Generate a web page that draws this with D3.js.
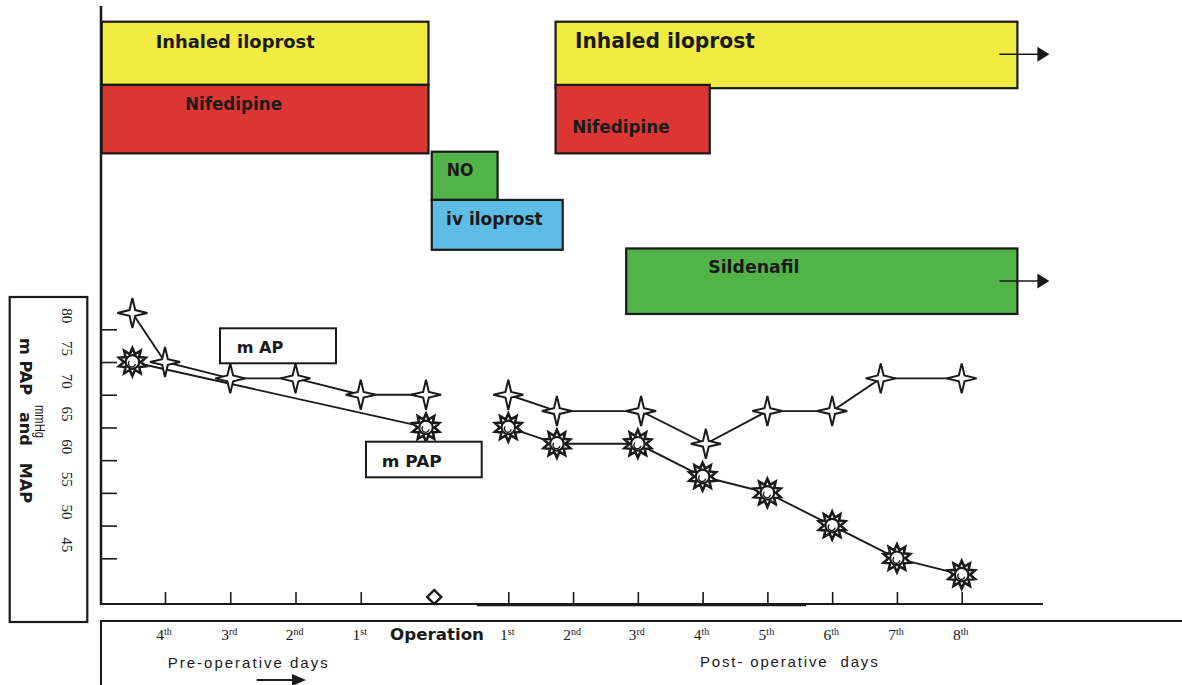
<!DOCTYPE html>
<html><head><meta charset="utf-8">
<script src="https://cdn.jsdelivr.net/npm/d3@7"></script>
<style>body{margin:0;background:#fff}svg{display:block}</style>
</head><body>
<svg id="chart" width="1182" height="685"></svg>
<script>
// ---------------- data ----------------
const preDays = [-4, -3, -2, -1];
const postDays = [1, 2, 3, 4, 5, 6, 7, 8];
const preDayLabels = [["4","th"],["3","rd"],["2","nd"],["1","st"]];
const postDayLabels = [["1","st"],["2","nd"],["3","rd"],["4","th"],["5","th"],["6","th"],["7","th"],["8","th"]];
const yTicks = [80, 75, 70, 65, 60, 55, 50, 45];
const operationDay = 0.1;

// mean arterial pressure (mAP)
const mapPreDay  = [-4.5, -4, -3, -2, -1, 0];
const mapPreVal  = [82.5, 75, 72.5, 72.5, 70, 70];
const mapPostDay = [1, 1.75, 3.05, 4.05, 5, 6, 6.75, 8];
const mapPostVal = [70, 67.5, 67.5, 62.5, 67.5, 67.5, 72.5, 72.5];
// mean pulmonary arterial pressure (mPAP)
const mpapPreDay  = [-4.5, 0];
const mpapPreVal  = [75, 65];
const mpapPostDay = [1, 1.75, 3, 4, 5, 6, 7, 8];
const mpapPostVal = [65, 62.5, 62.5, 57.5, 55, 50, 45, 42.5];

// treatments (start / end in days)
const drugNames   = ["Inhaled iloprost", "Nifedipine", "NO", "iv iloprost", "Inhaled iloprost", "Nifedipine", "Sildenafil"];
const drugStart   = [-4.97, -4.97, 0.07, 0.07, 1.73, 1.73, 2.82];
const drugEnd     = [0.03, 0.03, 0.87, 1.84, 8.86, 4.11, 8.86];
const drugOngoing = [false, false, false, false, true, false, true];

// ---------------- layout / style ----------------
const drugColor = {"Inhaled iloprost":"#f1ec41","Nifedipine":"#dc3632","NO":"#52b348","iv iloprost":"#5ebde4","Sildenafil":"#52b348"};
// lane (vertical band) placement, label offsets & sizes
const barLayout = [
  {l0:0,     l1:0.95,  dx:54,   dy:26,   fs:17, tl:159},
  {l0:0.95,  l1:1.98,  dx:83.3, dy:25,   fs:17, tl:97},
  {l0:1.955, l1:2.68,  dx:15,   dy:24.3, fs:17, tl:26.7},
  {l0:2.68,  l1:3.43,  dx:14.3, dy:25,   fs:17, tl:96.7},
  {l0:0,     l1:1.0,   dx:19.3, dy:26,   fs:21, tl:180},
  {l0:0.95,  l1:1.98,  dx:16.7, dy:47.7, fs:17, tl:97.3},
  {l0:3.41,  l1:4.395, dx:82,   dy:25,   fs:17, tl:91.3}
];

const svg = d3.select("#chart");
const INK = "#1a1a1a";

const x = d3.scaleLinear().domain([-4, 0, 1, 8]).range([165, 426, 508.3, 961.7]);
const y = d3.scaleLinear().domain([80, 45]).range([329.3, 558.3]);
const lane = d3.scaleLinear().domain([0, 1]).range([21.7, 88.2]);

// ---------------- treatment bars ----------------
const bars = drugNames.map((n, i) => ({name:n, s:drugStart[i], e:drugEnd[i], on:drugOngoing[i], L:barLayout[i]}));
const gb = svg.append("g");
const order = [0,1,2,3,4,6,5];
order.forEach(i => {
  const b = bars[i];
  const x0 = x(b.s), x1 = x(b.e), y0 = lane(b.L.l0), y1 = lane(b.L.l1);
  gb.append("rect").attr("x", x0).attr("y", y0).attr("width", x1 - x0).attr("height", y1 - y0)
    .attr("fill", drugColor[b.name]).attr("stroke", INK).attr("stroke-width", 2.2);
  gb.append("text").attr("x", x0 + b.L.dx).attr("y", y0 + b.L.dy)
    .attr("font-family", "DejaVu Sans, Verdana, sans-serif").attr("font-weight", "bold")
    .attr("font-size", b.L.fs).attr("fill", INK)
    .attr("textLength", b.L.tl).attr("lengthAdjust", "spacingAndGlyphs")
    .text(b.name);
  if (b.on) {
    const ay = y0 + 32.5;
    gb.append("line").attr("x1", x1 - 18).attr("x2", x1 + 21).attr("y1", ay).attr("y2", ay)
      .attr("stroke", INK).attr("stroke-width", 1.6);
    gb.append("path").attr("d", d3.line()([[x1 + 20, ay - 7.5], [x1 + 32, ay], [x1 + 20, ay + 7.5]]) + "Z")
      .attr("fill", INK);
  }
});

// ---------------- axes ----------------
const ga = svg.append("g").attr("stroke", INK).attr("fill", "none");
ga.append("line").attr("x1", 101).attr("x2", 101).attr("y1", 6).attr("y2", 605).attr("stroke-width", 2.5);
ga.append("line").attr("x1", 100).attr("x2", 1043).attr("y1", 604).attr("y2", 604).attr("stroke-width", 2);
ga.append("line").attr("x1", 477).attr("x2", 806).attr("y1", 605).attr("y2", 605).attr("stroke-width", 2.4);

// x ticks
const xAxis = d3.axisTop(x).tickValues(preDays.concat(postDays)).tickSize(12).tickFormat("");
const gx = svg.append("g").attr("transform", "translate(0,604)").call(xAxis);
gx.select(".domain").remove();
gx.selectAll(".tick line").attr("stroke", INK).attr("stroke-width", 1.6);

// y ticks
const yAxis = d3.axisRight(y).tickValues(yTicks).tickSize(16).tickFormat("");
const gy = svg.append("g").attr("transform", "translate(101,0)").call(yAxis);
gy.select(".domain").remove();
gy.selectAll(".tick line").attr("stroke", INK).attr("stroke-width", 1.6);

// y label box
svg.append("rect").attr("x", 9.7).attr("y", 297).attr("width", 77.6).attr("height", 325)
  .attr("fill", "none").attr("stroke", INK).attr("stroke-width", 2.2);
svg.append("g").selectAll("text").data(yTicks).join("text")
  .attr("transform", d => `translate(62,${y(d) - 13.5}) rotate(90)`)
  .attr("text-anchor", "middle").attr("font-family", "Liberation Serif, Times New Roman, serif")
  .attr("font-size", 15).attr("fill", INK).text(d => d);
svg.append("text").attr("transform", "translate(20,338) rotate(90)")
  .attr("font-family", "DejaVu Sans, Verdana, sans-serif").attr("font-weight", "bold")
  .attr("font-size", 16).attr("fill", INK).attr("textLength", 165).attr("lengthAdjust", "spacingAndGlyphs")
  .style("white-space", "pre")
  .text("m PAP   and   MAP");
svg.append("text").attr("transform", "translate(35,405) rotate(90)")
  .attr("font-family", "Liberation Sans, Arial, sans-serif")
  .attr("font-size", 15.5).attr("fill", INK).attr("textLength", 33).attr("lengthAdjust", "spacingAndGlyphs")
  .text("mmHg");

// bottom label box
ga.append("line").attr("x1", 100).attr("x2", 1182).attr("y1", 621).attr("y2", 621).attr("stroke-width", 2);
ga.append("line").attr("x1", 101).attr("x2", 101).attr("y1", 620).attr("y2", 685).attr("stroke-width", 2);

// day labels
const dayLab = preDays.map((d, i) => ({d, l: preDayLabels[i]})).concat(postDays.map((d, i) => ({d, l: postDayLabels[i]})));
const tl = svg.append("g").selectAll("text").data(dayLab).join("text")
  .attr("x", d => x(d.d) - 1).attr("y", 639.5).attr("text-anchor", "middle")
  .attr("font-family", "Liberation Serif, Times New Roman, serif").attr("font-size", 15.5).attr("fill", INK);
tl.append("tspan").text(d => d.l[0]);
tl.append("tspan").attr("font-size", 10).attr("dy", -5).text(d => d.l[1]);

svg.append("text").attr("x", x(0) + 11).attr("y", 640).attr("text-anchor", "middle")
  .attr("font-family", "DejaVu Sans, Verdana, sans-serif").attr("font-weight", "bold")
  .attr("font-size", 15).attr("fill", INK).attr("textLength", 94).attr("lengthAdjust", "spacingAndGlyphs")
  .text("Operation");
svg.append("text").attr("x", 167.7).attr("y", 667.7)
  .attr("font-family", "Liberation Sans, Arial, sans-serif").attr("font-size", 15).attr("fill", INK)
  .attr("textLength", 160).attr("lengthAdjust", "spacing").text("Pre-operative days");
svg.append("text").attr("x", 700).attr("y", 666.7).style("white-space", "pre")
  .attr("font-family", "Liberation Sans, Arial, sans-serif").attr("font-size", 15).attr("fill", INK)
  .attr("textLength", 177.7).attr("lengthAdjust", "spacing").text("Post- operative  days");
// arrow under pre-operative days
svg.append("line").attr("x1", 256.7).attr("x2", 293).attr("y1", 680).attr("y2", 680)
  .attr("stroke", INK).attr("stroke-width", 1.8);
svg.append("path").attr("d", d3.line()([[292, 674], [306, 680], [292, 686]]) + "Z").attr("fill", INK);

// operation diamond
svg.append("path").attr("transform", `translate(${x(operationDay)},597) rotate(45)`)
  .attr("d", d3.symbol(d3.symbolSquare, 100)()).attr("fill", "#fff").attr("stroke", INK).attr("stroke-width", 2.4);

// ---------------- series lines ----------------
const line = d3.line().x(d => x(d[0])).y(d => y(d[1]));
const zip = (a, b) => a.map((v, i) => [v, b[i]]);
const mapPre = zip(mapPreDay, mapPreVal), mapPost = zip(mapPostDay, mapPostVal);
const mpapPre = zip(mpapPreDay, mpapPreVal), mpapPost = zip(mpapPostDay, mpapPostVal);
const gl = svg.append("g").attr("fill", "none").attr("stroke", INK).attr("stroke-width", 1.9);
[mapPre, mapPost, mpapPre, mpapPost].forEach(s => gl.append("path").attr("d", line(s)));

// ---------------- markers ----------------
const star4 = { draw(ctx, size) {
  const R = Math.sqrt(size), r = R * 0.27;
  for (let i = 0; i < 8; i++) {
    const a = i * Math.PI / 4 - Math.PI / 2, rr = i % 2 ? r : R;
    const px = rr * Math.cos(a), py = rr * Math.sin(a);
    i ? ctx.lineTo(px, py) : ctx.moveTo(px, py);
  }
  ctx.closePath();
}};
const sunRays = { draw(ctx, size) {
  const R = Math.sqrt(size), r = R * 0.6, n = 10;
  for (let i = 0; i < 2 * n; i++) {
    const a = i * Math.PI / n - Math.PI / 2, rr = i % 2 ? r : R;
    const px = rr * Math.cos(a), py = rr * Math.sin(a);
    i ? ctx.lineTo(px, py) : ctx.moveTo(px, py);
  }
  ctx.closePath();
}};
const gm = svg.append("g");
gm.selectAll("g.sun").data(mpapPre.concat(mpapPost)).join("g").attr("class", "sun")
  .attr("transform", d => `translate(${x(d[0])},${y(d[1])})`)
  .each(function () {
    const g = d3.select(this);
    g.append("path").attr("d", d3.symbol(sunRays, 14 * 14)()).attr("fill", "#fff")
      .attr("stroke", INK).attr("stroke-width", 2.6).attr("stroke-linejoin", "miter");
    g.append("circle").attr("r", 6.8).attr("fill", "#fff").attr("stroke", INK).attr("stroke-width", 2.2);
    g.append("path").attr("d", "M-3,-1 A3.5,3.5 0 1 0 3,2").attr("fill", "none").attr("stroke", INK).attr("stroke-width", 1.4);
  });
gm.selectAll("path.star").data(mapPre.concat(mapPost)).join("path").attr("class", "star")
  .attr("transform", d => `translate(${x(d[0])},${y(d[1])})`)
  .attr("d", d3.symbol(star4, 15 * 15)()).attr("fill", "#fff").attr("stroke", INK).attr("stroke-width", 2);

// ---------------- series labels ----------------
const legend = [
  {t:"m AP", bx:220, by:328.3, bw:116, bh:35, tx:236.7, ty:353.3, tl:46.7},
  {t:"m PAP", bx:366, by:441.7, bw:115.7, bh:35.6, tx:381.7, ty:466.7, tl:60}
];
legend.forEach(l => {
  svg.append("rect").attr("x", l.bx).attr("y", l.by).attr("width", l.bw).attr("height", l.bh)
    .attr("fill", "#fff").attr("stroke", INK).attr("stroke-width", 2);
  svg.append("text").attr("x", l.tx).attr("y", l.ty)
    .attr("font-family", "DejaVu Sans, Verdana, sans-serif").attr("font-weight", "bold")
    .attr("font-size", 15).attr("fill", INK).attr("textLength", l.tl).attr("lengthAdjust", "spacingAndGlyphs")
    .text(l.t);
});
</script>
</body></html>
